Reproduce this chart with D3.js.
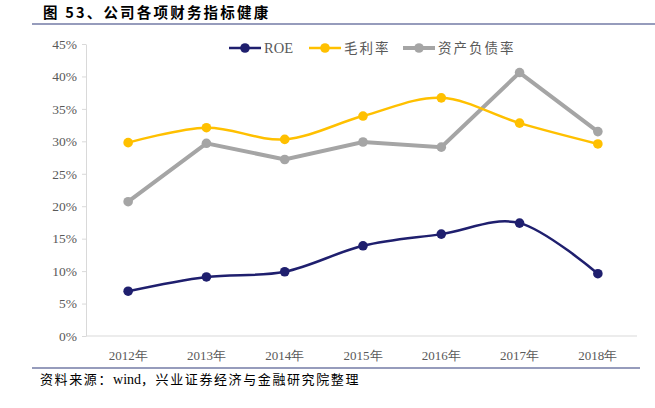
<!DOCTYPE html>
<html>
<head>
<meta charset="utf-8">
<script src="https://cdn.jsdelivr.net/npm/d3@7"></script>
<style>
  body { margin: 0; background: #fff; }
  svg { display: block; }
</style>
</head>
<body>
<svg id="chart" width="655" height="408"></svg>
<script>
var years = ["2012年", "2013年", "2014年", "2015年", "2016年", "2017年", "2018年"];
var roe = [6.9, 9.1, 9.9, 13.9, 15.7, 17.4, 9.6];
var grossMargin = [29.8, 32.1, 30.3, 33.9, 36.7, 32.8, 29.6];
var debtRatio = [20.7, 29.7, 27.2, 29.9, 29.1, 40.6, 31.5];
var yTicks = [0, 5, 10, 15, 20, 25, 30, 35, 40, 45];

var svg = d3.select("#chart");
var serif = "'Liberation Serif', 'Times New Roman', serif";
var cjk = "'Noto Sans CJK SC', sans-serif";

// title + rules
svg.append("text")
    .attr("x", 43).attr("y", 18)
    .attr("font-family", cjk).attr("font-size", "14.5px").attr("font-weight", "bold")
    .attr("letter-spacing", "2.2px")
    .attr("fill", "#000")
    .text("图 53、公司各项财务指标健康");
svg.append("line").attr("x1", 32).attr("x2", 655).attr("y1", 24).attr("y2", 24)
    .attr("stroke", "#2f3a7a").attr("stroke-width", 1.2);
svg.append("line").attr("x1", 32).attr("x2", 640).attr("y1", 368).attr("y2", 368)
    .attr("stroke", "#2f3a7a").attr("stroke-width", 1.2);
var src = svg.append("text")
    .attr("x", 40).attr("y", 384)
    .attr("font-family", cjk).attr("font-size", "13px").attr("fill", "#000")
    .attr("letter-spacing", "1.6px");
src.append("tspan").text("资料来源：");
src.append("tspan").attr("font-family", serif).attr("font-size", "14px").attr("letter-spacing", "0px").text("wind");
src.append("tspan").text("，兴业证券经济与金融研究院整理");

var x = d3.scaleBand().domain(years).range([89, 637]);
var y = d3.scaleLinear().domain([0, 45]).range([336, 44]);

// y axis
var yAxis = svg.append("g").attr("transform", "translate(86,0)")
    .call(d3.axisLeft(y).tickValues(yTicks).tickSize(4).tickSizeOuter(0)
        .tickFormat(function (d) { return d + "%"; }));
yAxis.select(".domain").attr("stroke", "#d9d9d9");
yAxis.selectAll(".tick line").attr("stroke", "#d9d9d9");
yAxis.selectAll(".tick text")
    .attr("font-family", serif).attr("font-size", "13.5px").attr("fill", "#595959").attr("x", -9);

// x axis
var xAxis = svg.append("g").attr("transform", "translate(0,336)")
    .call(d3.axisBottom(x).tickSize(0).tickSizeOuter(0));
xAxis.select(".domain").attr("stroke", "#d9d9d9").attr("d", "M86,0H637");
xAxis.selectAll(".tick text")
    .attr("font-family", serif).attr("font-size", "13px").attr("fill", "#595959").attr("dy", "1.6em");

var cx = function (d, i) { return x(years[i]) + x.bandwidth() / 2; };

var series = [
    { name: "资产负债率", values: debtRatio, color: "#a5a5a5", width: 4, curve: d3.curveLinear },
    { name: "毛利率", values: grossMargin, color: "#ffc000", width: 2.5, curve: d3.curveCardinal.tension(0) },
    { name: "ROE", values: roe, color: "#1f1f6e", width: 2.5, curve: d3.curveCardinal.tension(0) }
];

series.forEach(function (s) {
    var line = d3.line().x(cx).y(function (d) { return y(d); }).curve(s.curve);
    svg.append("path").datum(s.values)
        .attr("d", line)
        .attr("fill", "none").attr("stroke", s.color).attr("stroke-width", s.width);
    svg.selectAll(null).data(s.values).enter().append("circle")
        .attr("cx", cx).attr("cy", function (d) { return y(d); })
        .attr("r", 4.8).attr("fill", s.color);
});

// legend
var legend = [
    { name: "ROE", color: "#1f1f6e", width: 2.5, x: 229 },
    { name: "毛利率", color: "#ffc000", width: 2.5, x: 309 },
    { name: "资产负债率", color: "#a5a5a5", width: 4, x: 403 }
];
legend.forEach(function (l) {
    var g = svg.append("g").attr("transform", "translate(" + l.x + ",48)");
    g.append("line").attr("x1", 0).attr("x2", 32).attr("y1", 0).attr("y2", 0)
        .attr("stroke", l.color).attr("stroke-width", l.width);
    g.append("circle").attr("cx", 16).attr("cy", 0).attr("r", 4.8).attr("fill", l.color);
    g.append("text").attr("x", 35).attr("y", 5)
        .attr("font-family", l.name === "ROE" ? serif : cjk)
        .attr("font-size", l.name === "ROE" ? "14.5px" : "13.5px").attr("fill", "#595959")
        .attr("letter-spacing", l.name === "ROE" ? "0px" : "2px")
        .text(l.name);
});
</script>
</body>
</html>
